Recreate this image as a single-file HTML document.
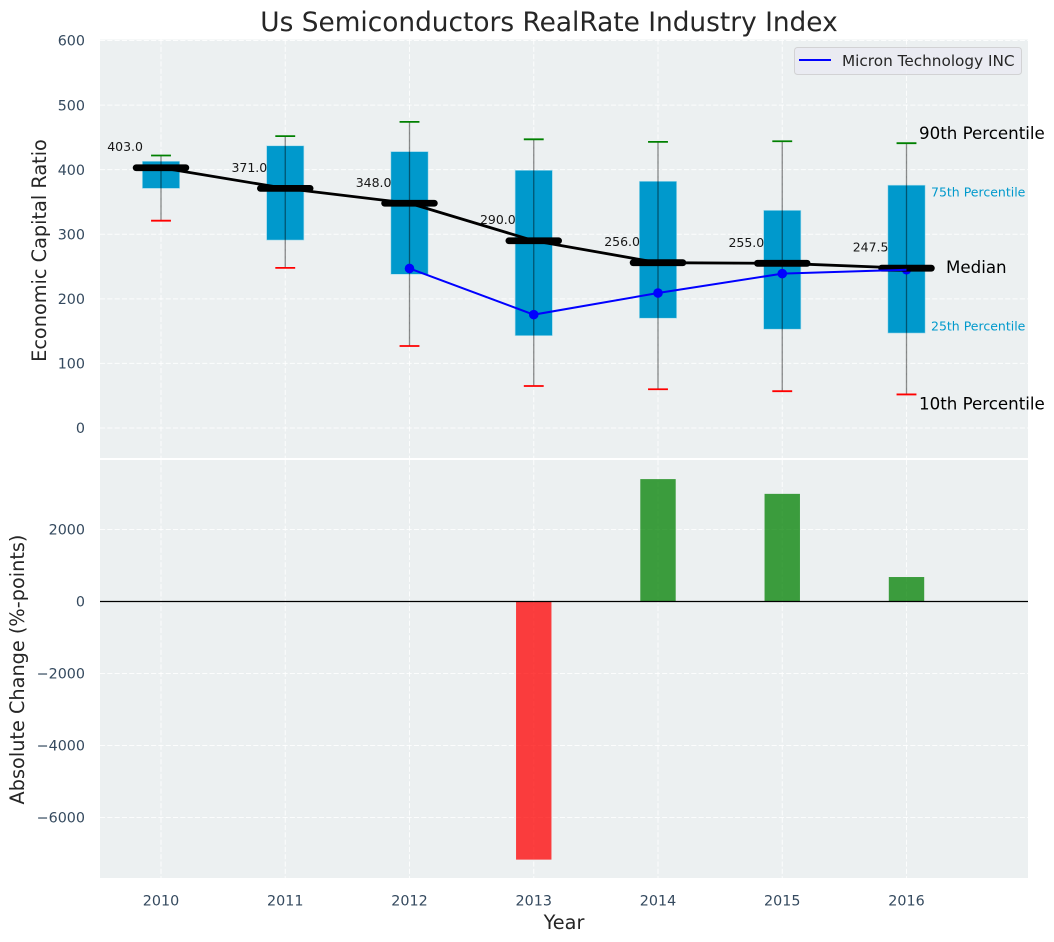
<!DOCTYPE html>
<html>
<head>
<meta charset="utf-8">
<title>Us Semiconductors RealRate Industry Index</title>
<style>
html,body{margin:0;padding:0;background:#fff;}
svg{display:block;font-family:"DejaVu Sans","Liberation Sans",sans-serif;}
</style>
</head>
<body>
<svg id="chart" width="1054" height="942" viewBox="0 0 1054 942" xmlns="http://www.w3.org/2000/svg"></svg>
<script>
const years = [2010, 2011, 2012, 2013, 2014, 2015, 2016];
const p90 = [422, 452, 474, 447, 443, 444, 441];
const p75 = [413, 437, 428, 399, 382, 337, 376];
const medians = [403.0, 371.0, 348.0, 290.0, 256.0, 255.0, 247.5];
const p25 = [371, 291, 238, 143, 170, 153, 147];
const p10 = [321, 248, 127, 65, 60, 57, 52];
const micron = [null, null, 247, 175.5, 209, 239, 245];
const changes = [null, null, null, -7170, 3400, 2990, 680];
const topTicks = [0, 100, 200, 300, 400, 500, 600];
const bottomTicks = [-6000, -4000, -2000, 0, 2000];

const svg = document.getElementById('chart');
const NS = 'http://www.w3.org/2000/svg';
const xScale = v => 161 + (v - 2010) * 124.25;
const yTop = v => 428 - v * 0.6458;
const yBottom = v => 601.5 - v * 0.036;
const BOX_W = 0.3, BAR_W = 0.285, CAP = 0.08, MED = 0.2;

function make(tag, attrs, parent) {
  const el = document.createElementNS(NS, tag);
  for (const k in attrs) el.setAttribute(k, attrs[k]);
  (parent || svg).appendChild(el);
  return el;
}
function label(str, attrs) {
  const el = make('text', attrs);
  el.textContent = str;
  return el;
}
const fmt = v => (v < 0 ? '\u2212' + Math.abs(v) : String(v));

// panel backgrounds
let el = make('rect', {x: 100, y: 39.5, width: 928, height: 418.5, fill: '#ecf0f1'});


el = make('rect', {x: 100, y: 460, width: 928, height: 418, fill: '#ecf0f1'});



const GRID = {stroke: '#ffffff', 'stroke-width': 1, 'stroke-opacity': 0.85, 'stroke-dasharray': '5.1 2.2', fill: 'none'};

// grid lines
years.forEach(function (yr) {
  const a = make('line', Object.assign({x1: xScale(yr), x2: xScale(yr), y1: 39.5, y2: 458}, GRID));
  
  
  const b = make('line', Object.assign({x1: xScale(yr), x2: xScale(yr), y1: 460, y2: 878}, GRID));
  
  
});
topTicks.forEach(function (t) {
  const g = make('line', Object.assign({x1: 100, x2: 1028, y1: yTop(t), y2: yTop(t)}, GRID));
  
  
  const s = label(String(t), {x: 85, y: yTop(t) + 5.2, 'text-anchor': 'end', 'font-size': 14.3, fill: '#34495e'});
  
  
});
bottomTicks.forEach(function (t) {
  const g = make('line', Object.assign({x1: 100, x2: 1028, y1: yBottom(t), y2: yBottom(t)}, GRID));
  
  
  const s = label(fmt(t), {x: 85, y: yBottom(t) + 5.2, 'text-anchor': 'end', 'font-size': 14.3, fill: '#34495e'});
  
  
});

// boxes and whiskers
years.forEach(function (yr, i) {
  const x = xScale(yr);
  const half = BOX_W * 124.25 / 2;
  const capHalf = CAP * 124.25;
  const box = make('rect', {x: x - half, y: yTop(p75[i]), width: half * 2, height: yTop(p25[i]) - yTop(p75[i]), fill: '#0099cc', stroke: '#a8dcec', 'stroke-width': 0.6});
  
  
  const whisk = make('line', {x1: x, x2: x, y1: yTop(p90[i]), y2: yTop(p10[i]), stroke: '#000000', 'stroke-opacity': 0.45, 'stroke-width': 1.3});
  
  
  const hi = make('line', {x1: x - capHalf, x2: x + capHalf, y1: yTop(p90[i]), y2: yTop(p90[i]), stroke: '#008000', 'stroke-width': 1.8});
  
  
  const lo = make('line', {x1: x - capHalf, x2: x + capHalf, y1: yTop(p10[i]), y2: yTop(p10[i]), stroke: '#ff0000', 'stroke-width': 1.8});
  
  
});

// median trend
const medianLine = make('polyline', {points: years.map((yr, i) => xScale(yr) + ',' + yTop(medians[i])).join(' '), fill: 'none', stroke: '#000000', 'stroke-width': 2.8, 'stroke-linejoin': 'round'});



// micron markers
years.forEach(function (yr, i) {
  if (micron[i] === null) return;
  const dot = make('circle', {cx: xScale(yr), cy: yTop(micron[i]), r: 4.8, fill: '#0000ff'});
  
  
});

// median bars and value labels
years.forEach(function (yr, i) {
  const x = xScale(yr);
  const half = MED * 124.25;
  const bar = make('line', {x1: x - half, x2: x + half, y1: yTop(medians[i]), y2: yTop(medians[i]), stroke: '#000000', 'stroke-width': 6.8, 'stroke-linecap': 'round'});
  
  
  const txt = label(medians[i].toFixed(1), {x: x - 18, y: yTop(medians[i]) - 16.5, 'text-anchor': 'end', 'font-size': 12.5, fill: '#000000', opacity: 0.9});
  
  
});

// micron line
const micronPts = years.map((yr, i) => micron[i] === null ? null : xScale(yr) + ',' + yTop(micron[i])).filter(Boolean).join(' ');
const mLine = make('polyline', {points: micronPts, fill: 'none', stroke: '#0000ff', 'stroke-width': 2});



// change bars
years.forEach(function (yr, i) {
  if (changes[i] === null) return;
  const half = BAR_W * 124.25 / 2;
  const y0 = yBottom(Math.max(0, changes[i]));
  const y1 = yBottom(Math.min(0, changes[i]));
  const r = make('rect', {x: xScale(yr) - half, y: y0, width: half * 2, height: y1 - y0, fill: changes[i] < 0 ? '#ff0000' : '#008000', 'fill-opacity': 0.75});
  
  
});
const zero = make('line', {x1: 100, x2: 1028, y1: yBottom(0), y2: yBottom(0), stroke: '#000000', 'stroke-width': 1.3});



// x tick labels
years.forEach(function (yr) {
  const t = label(String(yr), {x: xScale(yr), y: 905.5, 'text-anchor': 'middle', 'font-size': 14.3, fill: '#34495e'});
  
  
});

// percentile annotations on the last box
const last = years.length - 1;
let a = label('90th Percentile', {x: 919, y: yTop(p90[last]) - 4, 'font-size': 16.67, fill: '#000000'});


a = label('75th Percentile', {x: 931, y: yTop(p75[last]) + 11.5, 'font-size': 12.5, fill: '#0099cc'});


a = label('Median', {x: 946, y: yTop(medians[last]) + 5, 'font-size': 16.67, fill: '#000000'});


a = label('25th Percentile', {x: 931, y: yTop(p25[last]) - 2.5, 'font-size': 12.5, fill: '#0099cc'});


a = label('10th Percentile', {x: 919, y: yTop(p10[last]) + 15, 'font-size': 16.67, fill: '#000000'});



// title and axis titles
let t = label('Us Semiconductors RealRate Industry Index', {x: 549, y: 31, 'text-anchor': 'middle', 'font-size': 26.39, fill: '#262626'});


t = label('Economic Capital Ratio', {transform: 'translate(46,250.5) rotate(-90)', 'text-anchor': 'middle', 'font-size': 19.3, fill: '#262626'});


t = label('Absolute Change (%-points)', {transform: 'translate(24,669.5) rotate(-90)', 'text-anchor': 'middle', 'font-size': 19.3, fill: '#262626'});


t = label('Year', {x: 564, y: 929, 'text-anchor': 'middle', 'font-size': 19.3, fill: '#262626'});



// legend
const legendBox = make('rect', {x: 794.5, y: 47.5, width: 227, height: 27, rx: 3, fill: '#eaeaf2', 'fill-opacity': 0.8, stroke: '#cccccc', 'stroke-opacity': 0.8, 'stroke-width': 1});


const legendLine = make('line', {x1: 799, x2: 831, y1: 60, y2: 60, stroke: '#0000ff', 'stroke-width': 2});


const legendText = label('Micron Technology INC', {x: 842, y: 66, 'font-size': 15.28, fill: '#262626'});


</script>
</body>
</html>
